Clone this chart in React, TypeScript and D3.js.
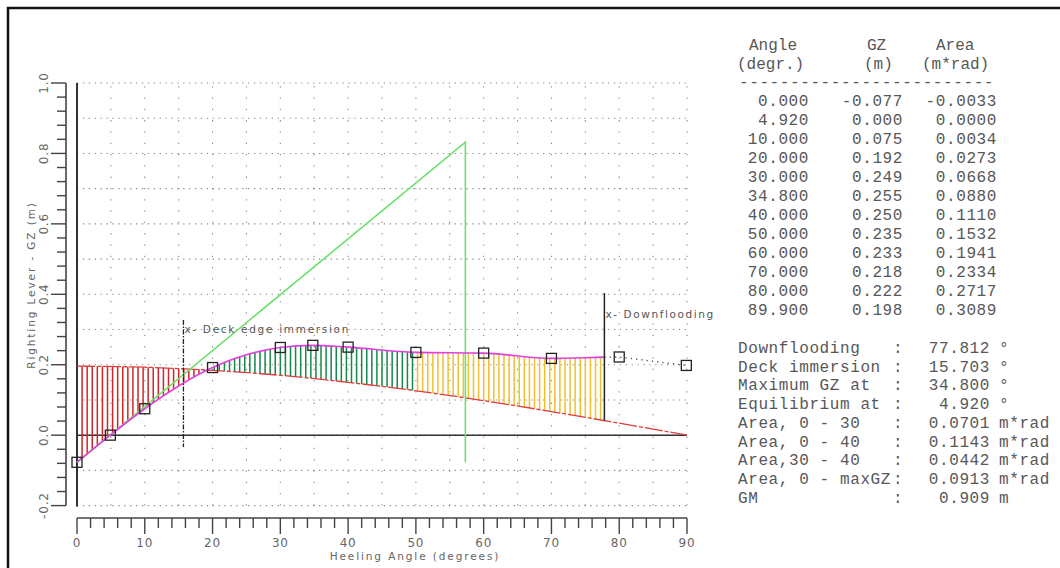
import React from "react";
import * as d3 from "d3";

// ---- data ----
const angles = [0, 4.92, 10, 20, 30, 34.8, 40, 50, 60, 70, 80, 89.9];
const gzValues = [-0.077, 0, 0.075, 0.192, 0.249, 0.255, 0.25, 0.235, 0.233, 0.218, 0.222, 0.198];
const areaValues = [-0.0033, 0, 0.0034, 0.0273, 0.0668, 0.088, 0.111, 0.1532, 0.1941, 0.2334, 0.2717, 0.3089];

const heelAngles = [0, 10, 20, 30, 40, 50, 60, 70, 80, 90];
const heelArm = [0.196, 0.193, 0.184, 0.17, 0.15, 0.126, 0.098, 0.067, 0.034, 0.0];

const xTicks = [0, 10, 20, 30, 40, 50, 60, 70, 80, 90];
const yTicks = [-0.2, 0, 0.2, 0.4, 0.6, 0.8, 1.0];

const downflooding = 77.812;
const deckImmersion = 15.703;
const gm = 0.909;
const radianDeg = 57.3;

const summaryLabels = [
  "Downflooding",
  "Deck immersion",
  "Maximum GZ at",
  "Equilibrium at",
  "Area, 0 - 30",
  "Area, 0 - 40",
  "Area,30 - 40",
  "Area, 0 - maxGZ",
  "GM",
];
const summaryValues = ["77.812", "15.703", "34.800", "4.920", "0.0701", "0.1143", "0.0442", "0.0913", "0.909"];
const summaryUnits = ["°", "°", "°", "°", "m*rad", "m*rad", "m*rad", "m*rad", "m"];

// ---- helpers ----
function monotone(xs: number[], ys: number[]) {
  const n = xs.length;
  const t = new Array(n).fill(0);
  for (let i = 1; i < n - 1; i++) {
    const h0 = xs[i] - xs[i - 1], h1 = xs[i + 1] - xs[i];
    const s0 = (ys[i] - ys[i - 1]) / h0, s1 = (ys[i + 1] - ys[i]) / h1;
    const p = (s0 * h1 + s1 * h0) / (h0 + h1);
    t[i] = (Math.sign(s0) + Math.sign(s1)) * Math.min(Math.abs(s0), Math.abs(s1), 0.5 * Math.abs(p)) || 0;
  }
  const hA = xs[1] - xs[0];
  t[0] = (3 * (ys[1] - ys[0]) / hA - t[1]) / 2;
  const hB = xs[n - 1] - xs[n - 2];
  t[n - 1] = (3 * (ys[n - 1] - ys[n - 2]) / hB - t[n - 2]) / 2;
  return (x: number) => {
    let i = 0;
    while (i < n - 2 && x > xs[i + 1]) i++;
    const h = xs[i + 1] - xs[i];
    const u = (x - xs[i]) / h;
    const u2 = u * u, u3 = u2 * u;
    return (2 * u3 - 3 * u2 + 1) * ys[i] + (u3 - 2 * u2 + u) * h * t[i] + (-2 * u3 + 3 * u2) * ys[i + 1] + (u3 - u2) * h * t[i + 1];
  };
}

export default function App() {
  const W = 1060, H = 568;
  const x = d3.scaleLinear().domain([0, 90]).range([77, 687]);
  const y = d3.scaleLinear().domain([-0.2, 1.0]).range([505.6, 83]);

  const gzAt = monotone(angles, gzValues);
  const heelAt = monotone(heelAngles, heelArm);

  const lineGen = d3
    .line<[number, number]>()
    .x((d) => x(d[0]))
    .y((d) => y(d[1]))
    .curve(d3.curveMonotoneX);
  const straight = d3
    .line<[number, number]>()
    .x((d) => x(d[0]))
    .y((d) => y(d[1]));

  const gzPts: [number, number][] = angles.map((a, i) => [a, gzValues[i]]);
  const heelPts: [number, number][] = heelAngles.map((a, i) => [a, heelArm[i]]);

  // hatches
  const step = 0.75;
  const hatches: { a: number; g: number; h: number; c: string }[] = [];
  for (let k = 1; k * step < downflooding; k++) {
    const a = k * step;
    const g = gzAt(a), h = heelAt(a);
    let c = "#f0c030";
    if (a < 50) c = h > g ? "#cf2626" : "#17874a";
    hatches.push({ a, g, h, c });
  }

  const gzDF = gzAt(downflooding);
  const gmPts: [number, number][] = [
    [0, gzValues[0]],
    [radianDeg, gzValues[0] + gm],
    [radianDeg, gzValues[0]],
  ];

  const gridX = d3.range(5, 91, 5);
  const gridY = d3.range(-0.2, 1.0001, 0.1);
  const xMinor = d3.range(0, 90.01, 2);
  const yMinor = d3.range(-0.2, 1.0001, 0.04);

  const plotFont = "'DejaVu Sans', sans-serif";
  const mono = "'Liberation Mono', 'Courier New', monospace";
  const tableFill = "#575757";
  const fmt3 = d3.format(".3f");
  const fmt4 = d3.format(".4f");
  const fmtMinus = (s: string) => s.replace("−", "-");

  const rowY = (i: number) => 106 + i * 19;

  return (
    <svg
      width={W}
      height={H}
      style={{ position: "absolute", left: 0, top: 0, background: "#fff" }}
      xmlns="http://www.w3.org/2000/svg"
    >
      <rect x={0} y={0} width={W} height={H} fill="#fff" />
      <defs>
        <clipPath id="dfclip">
          <rect x={0} y={0} width={x(downflooding)} height={H} />
        </clipPath>
      </defs>
      {/* outer frame */}
      <rect x={8} y={8} width={1100} height={620} fill="none" stroke="#111" strokeWidth={2.5} />

      {/* grid */}
      {gridY.map((v, i) => (
        <line key={"gy" + i} x1={x(0)} x2={x(90)} y1={y(v)} y2={y(v)} stroke="#8a8a8a" strokeWidth={1.1} strokeDasharray="1.3,4.6" />
      ))}
      {gridX.map((v) => (
        <line key={"gx" + v} x1={x(v)} x2={x(v)} y1={y(-0.2)} y2={y(1.0)} stroke="#8a8a8a" strokeWidth={1.1} strokeDasharray="1.3,10" />
      ))}

      {/* main left axis */}
      <line x1={x(0)} x2={x(0)} y1={y(1.0)} y2={y(-0.2) + 1} stroke="#333" strokeWidth={2} />
      {/* zero line */}
      <line x1={x(0)} x2={x(90)} y1={y(0)} y2={y(0)} stroke="#333" strokeWidth={1.5} />

      {/* y ruler */}
      <line x1={66} x2={66} y1={y(1.0)} y2={y(-0.2)} stroke="#444" strokeWidth={1.6} />
      {yMinor.map((v, i) => {
        const major = i % 5 === 0;
        return <line key={"ym" + i} x1={major ? 51 : 57} x2={66} y1={y(v)} y2={y(v)} stroke="#444" strokeWidth={1.4} />;
      })}
      {yTicks.map((v) => (
        <text
          key={"yt" + v}
          transform={`translate(48,${y(v)}) rotate(-90)`}
          textAnchor="middle"
          fontFamily={plotFont}
          fontSize={12}
          fill="#666"
          letterSpacing={0.8}
        >
          {fmtMinus(d3.format(".1f")(v))}
        </text>
      ))}
      <text
        transform={`translate(35,285) rotate(-90)`}
        textAnchor="middle"
        fontFamily={plotFont}
        fontSize={10.5}
        fill="#666"
        letterSpacing={1.9}
      >
        Righting Lever - GZ (m)
      </text>

      {/* x ruler */}
      <line x1={x(0)} x2={x(90)} y1={518} y2={518} stroke="#444" strokeWidth={1.6} />
      {xMinor.map((v, i) => {
        const major = v % 10 === 0;
        return <line key={"xm" + i} x1={x(v)} x2={x(v)} y1={518} y2={major ? 534 : 528} stroke="#444" strokeWidth={1.4} />;
      })}
      {xTicks.map((v) => (
        <text key={"xt" + v} x={x(v)} y={546.5} textAnchor="middle" fontFamily={plotFont} fontSize={12} fill="#666" letterSpacing={0.8}>
          {v}
        </text>
      ))}
      <text x={415} y={560} textAnchor="middle" fontFamily={plotFont} fontSize={10.5} fill="#666" letterSpacing={1.9}>
        Heeling Angle (degrees)
      </text>

      {/* hatches */}
      {hatches.map((hh, i) => (
        <line key={"h" + i} x1={x(hh.a)} x2={x(hh.a)} y1={y(hh.g)} y2={y(hh.h)} stroke={hh.c} strokeWidth={1.5} />
      ))}

      {/* heeling arm */}
      <path d={lineGen(heelPts) || ""} fill="none" stroke="#e03a3a" strokeWidth={1.3} strokeDasharray="18,2,4,2" />

      {/* GM line */}
      <path d={straight(gmPts) || ""} fill="none" stroke="#6ee06e" strokeWidth={1.6} />

      {/* GZ curve */}
      <path d={lineGen(gzPts) || ""} fill="none" stroke="#e040e0" strokeWidth={1.6} clipPath="url(#dfclip)" />
      <path
        d={straight([[downflooding, gzDF], [80, gzValues[10]], [89.9, gzValues[11]]]) || ""}
        fill="none"
        stroke="#555"
        strokeWidth={1.3}
        strokeDasharray="1.3,4"
      />

      {/* deck edge immersion */}
      <line x1={x(deckImmersion)} x2={x(deckImmersion)} y1={320} y2={447} stroke="#222" strokeWidth={1.3} strokeDasharray="5,1.5,1.5,1.5" />
      <text x={x(deckImmersion) + 1} y={333} fontFamily={plotFont} fontSize={10.5} fill="#555" letterSpacing={1.7}>
        x- Deck edge immersion
      </text>
      {/* downflooding */}
      <line x1={x(downflooding)} x2={x(downflooding)} y1={293} y2={y(heelAt(downflooding))} stroke="#222" strokeWidth={1.5} />
      <text x={x(downflooding) + 1} y={318} fontFamily={plotFont} fontSize={10.5} fill="#555" letterSpacing={1.6}>
        x- Downflooding
      </text>

      {/* data squares */}
      {angles.map((a, i) => (
        <rect key={"sq" + i} x={x(a) - 5} y={y(gzValues[i]) - 5} width={10} height={10} fill="none" stroke="#222" strokeWidth={1.3} />
      ))}

      {/* table */}
      <g fontFamily={mono} fontSize={16} fill={tableFill} style={{ whiteSpace: "pre" }}>
        <text x={749} y={50}>Angle</text>
        <text x={867} y={50}>GZ</text>
        <text x={936} y={50}>Area</text>
        <text x={737} y={69}>(degr.)</text>
        <text x={864} y={69}>(m)</text>
        <text x={922} y={69}>(m*rad)</text>
        <text x={739} y={87} letterSpacing={0.6}>-------------------------</text>
        {angles.map((a, i) => (
          <g key={"row" + i}>
            <text x={809} y={rowY(i)} textAnchor="end" letterSpacing={0.6}>{fmt3(a)}</text>
            <text x={903} y={rowY(i)} textAnchor="end" letterSpacing={0.6}>{fmtMinus(fmt3(gzValues[i]))}</text>
            <text x={997} y={rowY(i)} textAnchor="end" letterSpacing={0.6}>{fmtMinus(fmt4(areaValues[i]))}</text>
          </g>
        ))}
        {summaryLabels.map((s, i) => {
          const yy = 353 + i * 18.7;
          return (
            <g key={"sum" + i}>
              <text x={738} y={yy} letterSpacing={0.6}>{s}</text>
              <text x={893} y={yy}>:</text>
              <text x={990} y={yy} textAnchor="end" letterSpacing={0.6}>{summaryValues[i]}</text>
              <text x={999} y={yy} letterSpacing={0.6}>{summaryUnits[i]}</text>
            </g>
          );
        })}
      </g>
    </svg>
  );
}
